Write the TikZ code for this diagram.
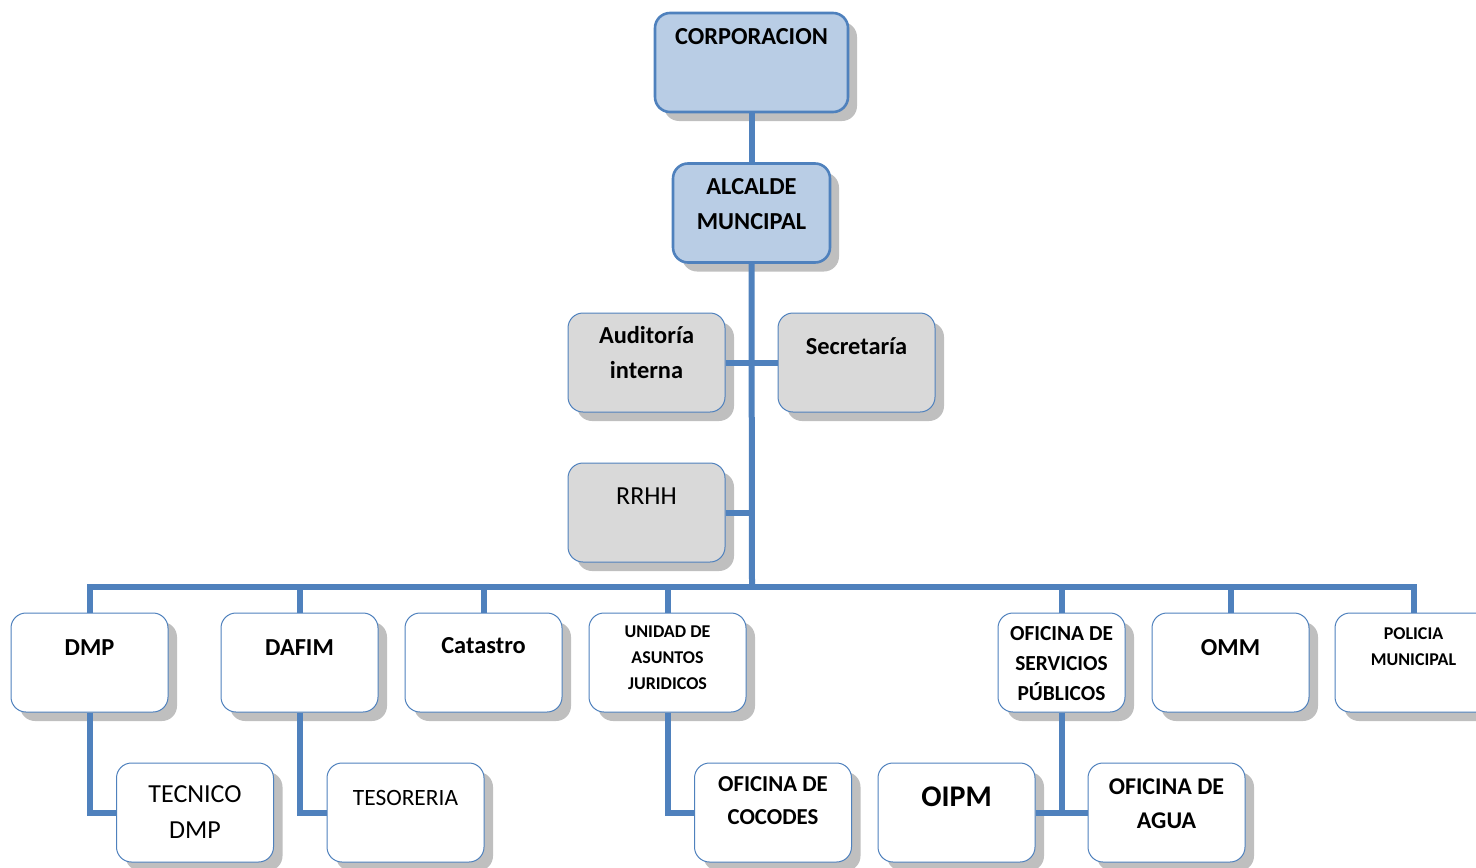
\documentclass[tikz,border=0pt]{standalone}
\usepackage{fontspec}
\setmainfont{Carlito}
\usetikzlibrary{shadows}

\definecolor{linkblue}{HTML}{4F81BD}
\definecolor{topfill}{HTML}{B9CDE5}
\definecolor{stafffill}{HTML}{D9D9D9}

\newcommand{\fbig}{\fontsize{12.2}{17.5}\selectfont\bfseries}
\newcommand{\fplain}{\fontsize{13}{18}\selectfont}

\tikzset{
  unit/.style={draw=linkblue, fill=white, line width=0.5pt, rounded corners=7.5pt,
    minimum width=78.5pt, minimum height=49.5pt, inner sep=0pt,
    drop shadow={shadow xshift=4.5pt, shadow yshift=-4.5pt, fill=black!25, opacity=1}},
  head/.style={unit, fill=topfill, line width=1.3pt},
  staff/.style={unit, fill=stafffill},
  lbl/.style={anchor=north, inner sep=0pt, align=center},
  link/.style={draw=linkblue, line width=3pt}
}

\begin{document}
\begin{tikzpicture}[x=0.5pt, y=-0.5pt]
  \useasboundingbox (0,0) rectangle (1476,867);

  %Top of the chart
  \node [head, minimum width=96.5pt] (corp) at (751.5,62.5) {};
  \node [lbl, font=\fbig] (corp-t) at ([yshift=-8pt]corp.north) {CORPORACION};
  \node [head] (alc) at (751.5,213) {};
  \node [lbl, font=\fbig] (alc-t) at ([yshift=-8pt]alc.north) {ALCALDE\\MUNCIPAL};

  %Staff units
  \node [staff] (aud) at (646.5,362.5) {};
  \node [lbl, font=\fbig] (aud-t) at ([yshift=-6.5pt]aud.north) {Auditoría\\interna};
  \node [staff] (sec) at (856.5,362.5) {};
  \node [lbl, font=\fbig] (sec-t) at ([yshift=-12.5pt]sec.north) {Secretaría};
  \node [staff] (rrhh) at (646.5,512.5) {};
  \node [lbl, font=\fplain] (rrhh-t) at ([yshift=-12.5pt]rrhh.north) {RRHH};

  %Departments
  \node [unit] (dmp) at (89.5,662.5) {};
  \node [lbl, font=\fbig] (dmp-t) at ([yshift=-13.5pt]dmp.north) {DMP};
  \node [unit] (dafim) at (299.5,662.5) {};
  \node [lbl, font=\fbig] (dafim-t) at ([yshift=-13.5pt]dafim.north) {DAFIM};
  \node [unit] (cat) at (483.5,662.5) {};
  \node [lbl, font=\fbig] (cat-t) at ([yshift=-12.5pt]cat.north) {Catastro};
  \node [unit] (uaj) at (667.5,662.5) {};
  \node [lbl, font=\fontsize{9}{13}\selectfont\bfseries] (uaj-t) at ([yshift=-6.5pt]uaj.north)
    {UNIDAD DE\\ASUNTOS\\JURIDICOS};
  \node [unit, minimum width=63.5pt] (osp) at (1061.5,662.5) {};
  \node [lbl, font=\fontsize{10.7}{15}\selectfont\bfseries] (osp-t) at ([yshift=-7pt]osp.north)
    {OFICINA DE\\SERVICIOS\\PÚBLICOS};
  \node [unit] (omm) at (1230.5,662.5) {};
  \node [lbl, font=\fbig] (omm-t) at ([yshift=-13.5pt]omm.north) {OMM};
  \node [unit] (pol) at (1413.5,662.5) {};
  \node [lbl, font=\fontsize{9}{13}\selectfont\bfseries] (pol-t) at ([yshift=-7.5pt]pol.north)
    {POLICIA\\MUNICIPAL};

  %Sections
  \node [unit] (tec) at (195,812.5) {};
  \node [lbl, font=\fplain] (tec-t) at ([yshift=-11.5pt]tec.north) {TECNICO\\DMP};
  \node [unit] (teso) at (405.5,812.5) {};
  \node [lbl, font=\fontsize{11.7}{16}\selectfont] (teso-t) at ([yshift=-13.5pt]teso.north) {TESORERIA};
  \node [unit] (coc) at (773,812.5) {};
  \node [lbl, font=\fontsize{11.4}{16.5}\selectfont\bfseries] (coc-t) at ([yshift=-7pt]coc.north)
    {OFICINA DE\\COCODES};
  \node [unit] (oipm) at (956.5,812.5) {};
  \node [lbl, font=\fontsize{15}{18}\selectfont\bfseries] (oipm-t) at ([yshift=-12pt]oipm.north) {OIPM};
  \node [unit] (agua) at (1166.5,812.5) {};
  \node [lbl, font=\fontsize{12}{17}\selectfont\bfseries] (agua-t) at ([yshift=-8pt]agua.north)
    {OFICINA DE\\AGUA};

  %Connectors
  \coordinate (bus) at (752,587);
  \draw [link] (corp.south) -- (alc.north);
  \draw [link] (alc.south) -- (bus);
  \draw [link] (aud.east) -- (sec.west);
  \draw [link] (rrhh.east) -- (rrhh.east -| bus);
  \foreach \n in {dmp,dafim,cat,uaj,osp,omm,pol}
    \draw [link] (bus) -| (\n.north);
  \draw [link] (dmp.south) |- (tec.west);
  \draw [link] (dafim.south) |- (teso.west);
  \draw [link] (uaj.south) |- (coc.west);
  \draw [link] (osp.south) -- (osp.south |- agua.west);
  \draw [link] (oipm.east) -- (agua.west);
\end{tikzpicture}
\end{document}
